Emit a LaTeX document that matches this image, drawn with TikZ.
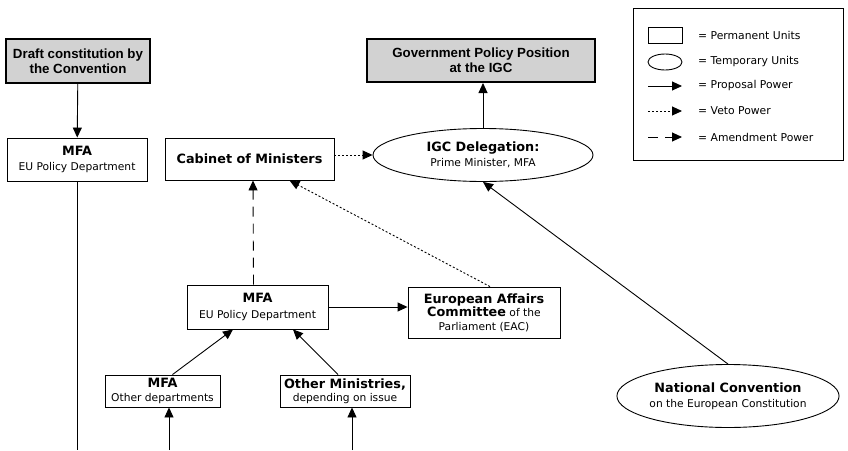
\documentclass[tikz,border=0pt]{standalone}
\usepackage{fontspec}
\setmainfont{DejaVu Sans}
\newfontfamily\headfont{Liberation Sans}
\usetikzlibrary{arrows.meta,shapes.geometric,calc}
\newcommand\unithead{\fontsize{12.8}{15}\selectfont\bfseries}
\newcommand\unitsub{\fontsize{10.7}{13.5}\selectfont}

\begin{document}
\begin{tikzpicture}[x=1pt,y=-1pt,
  unit/.style={draw,line width=0.9pt,align=center,inner sep=0pt,font=\unitsub},
  title/.style={draw,line width=2pt,fill=gray!35,align=center,inner sep=0pt,
    font=\headfont\fontsize{13.3}{15}\selectfont\bfseries},
  tempunit/.style={ellipse,draw,line width=0.9pt,align=center,inner sep=0pt,font=\unitsub},
  prop/.style={-{Triangle[length=10pt,width=9pt]},line width=0.9pt},
  veto/.style={prop,dash pattern=on 2pt off 2pt},
  amend/.style={prop,dash pattern=on 10pt off 7pt},
  legtext/.style={right,inner sep=0pt,font=\fontsize{10.8}{13}\selectfont}]
\useasboundingbox (0,0) rectangle (848,450);

% top boxes
\node[title,minimum width=144,minimum height=44](draft) at (78,61){Draft constitution by\\the Convention};
\node[title,minimum width=228,minimum height=43](gov) at (481,60.5){Government Policy Position\\at the IGC};

% units
\node[unit,minimum width=140,minimum height=43](mfaL) at (77,159.5){{\unithead MFA}\\[2pt]EU Policy Department};
\node[unit,minimum width=169,minimum height=42](cab) at (249.5,159){\unithead Cabinet of Ministers};
\node[tempunit,minimum width=220,minimum height=53](igc) at (483,155){{\unithead IGC Delegation:}\\[2pt]Prime Minister, MFA};
\node[unit,minimum width=141,minimum height=44](mfaEU) at (257.5,307){{\unithead MFA}\\[2pt]EU Policy Department};
\node[unit,minimum width=152,minimum height=51](eac) at (484,312.5){{\unithead European Affairs}\\{\unithead Committee} of the\\Parliament (EAC)};
\node[unit,minimum width=115,minimum height=32](mfaO) at (162.5,391){{\unithead MFA}\\Other departments};
\node[unit,minimum width=130,minimum height=32](oth) at (345,391){{\unithead Other Ministries,}\\depending on issue};
\node[tempunit,minimum width=210,minimum height=63](nc) at (728,396){{\unithead National Convention}\\[2pt]on the European Constitution};

% connectors
\coordinate (mfaLEnd) at (77,450);
\coordinate (mfaOStart) at (169,450);
\coordinate (othStart) at (352,450);
\draw[prop] (draft) -- (mfaL);
\draw[line width=0.9pt] (mfaL.south) -- (mfaLEnd);
\draw[prop] (igc.north) -- (igc.north |- gov.south);
\draw[veto] (cab.east |- igc) -- (igc.west);
\draw[amend] ($(mfaEU.north)+(-4,0)$) -- ($(cab.south)+(3.5,0)$);
\draw[veto] ($(eac.north)+(6,0)$) -- ($(cab.south)+(40,0)$);
\draw[prop] (mfaEU.east) -- (mfaEU.east -| eac.west);
\draw[prop] ($(mfaO.north)+(10,0)$) -- ($(mfaEU.south)+(-24.5,0)$);
\draw[prop] ($(oth.north)+(-7,0)$) -- ($(mfaEU.south)+(35.5,0)$);
\draw[prop] (mfaOStart) -- (mfaOStart |- mfaO.south);
\draw[prop] (othStart) -- (othStart |- oth.south);
\draw[prop] (nc.north) -- (igc.south);

% legend
\draw[line width=0.9pt] (633,8) rectangle (843,160);
\draw[line width=0.9pt] (648,27) rectangle (682,43);
\draw[line width=0.9pt] (665,62) ellipse (17 and 8);
\draw[prop] (648,86) -- (682,86);
\draw[veto] (648,111) -- (682,111);
\draw[amend] (648,137) -- (682,137);
\node[legtext](lgPerm) at (698,35){= Permanent Units};
\node[legtext](lgTemp) at (698,62){= Temporary Units};
\node[legtext](lgProp) at (698,86){= Proposal Power};
\node[legtext](lgVeto) at (698,111){= Veto Power};
\node[legtext](lgAmend) at (698,137){= Amendment Power};
\end{tikzpicture}
\end{document}
